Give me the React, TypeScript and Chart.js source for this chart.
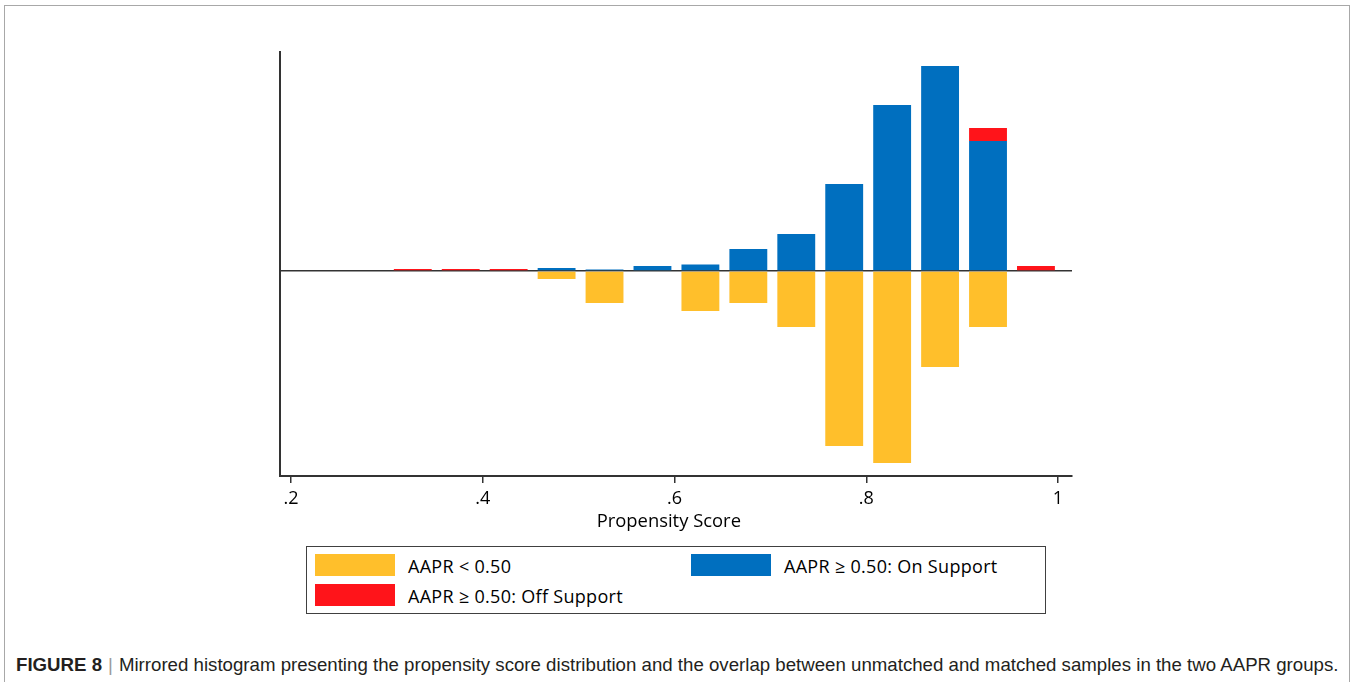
import React, { useEffect, useRef } from "react";
import { Chart, registerables } from "chart.js";

Chart.register(...registerables);

// ---- data ----
const binCenters = [0.327, 0.377, 0.427, 0.477, 0.527, 0.577, 0.627, 0.677, 0.727, 0.777, 0.827, 0.877, 0.927, 0.977];
const belowHalf: (number | null)[] = [null, null, null, -8, -32, null, -40, -32, -56, -175, -192, -96, -56, null];
const onSupport: (number | null)[] = [null, null, null, 3, 1.5, 5, 6.5, 22, 37, 87, 166, 205, 130, null];
const offSupport: (number | null)[] = [2, 2, 2, null, null, null, null, null, null, null, null, null, 13, 5];
const xTickValues = [0.2, 0.4, 0.6, 0.8, 1];
const xTickLabels = [".2", ".4", ".6", ".8", "1"];
const legendLabels = ["AAPR < 0.50", "AAPR \u2265 0.50: On Support", "AAPR \u2265 0.50: Off Support"];
const xTitle = "Propensity Score";
const captionBold = "FIGURE 8";
const captionText = "Mirrored histogram presenting the propensity score distribution and the overlap between unmatched and matched samples in the two AAPR groups.";

const YELLOW = "#FFBF2B";
const BLUE = "#006FBF";
const RED = "#FF141A";
const FONT = "'Open Sans'";

function toPoints(vals: (number | null)[]) {
  const pts: { x: number; y: number }[] = [];
  vals.forEach((v, i) => {
    if (v !== null) pts.push({ x: binCenters[i], y: v });
  });
  return pts;
}

export default function App() {
  const ref = useRef<HTMLCanvasElement | null>(null);

  useEffect(() => {
    if (!ref.current) return;
    const chart = new Chart(ref.current, {
      type: "bar",
      data: {
        datasets: [
          { label: legendLabels[0], data: toPoints(belowHalf) as any, backgroundColor: YELLOW },
          { label: legendLabels[1], data: toPoints(onSupport) as any, backgroundColor: BLUE },
          { label: legendLabels[2], data: toPoints(offSupport) as any, backgroundColor: RED },
        ],
      },
      options: {
        responsive: false,
        animation: false,
        layout: { padding: { left: 280, right: 280, top: 52, bottom: 7 } },
        plugins: {
          legend: { display: false },
          tooltip: { enabled: false },
          title: { display: false },
        },
        datasets: { bar: { barPercentage: 0.79, categoryPercentage: 1, borderWidth: 0 } } as any,
        scales: {
          x: {
            type: "linear",
            stacked: true,
            offset: false,
            min: 0.1885,
            max: 1.0146,
            afterBuildTicks: (s: any) => {
              s.ticks = xTickValues.map((v) => ({ value: v }));
            },
            afterFit: (s: any) => {
              s.height = 57;
            },
            ticks: {
              autoSkip: false,
              maxRotation: 0,
              padding: 5,
              color: "#000",
              font: { family: FONT, size: 18 },
              callback: (_v: any, i: number) => xTickLabels[i],
            },
            grid: {
              display: true,
              offset: false,
              drawOnChartArea: false,
              drawTicks: true,
              tickLength: 7,
              color: "#333",
              lineWidth: 1.5,
            },
            border: { display: true, color: "#333", width: 2 },
            title: {
              display: true,
              text: xTitle + "\u00a0\u00a0\u00a0",
              color: "#000",
              font: { family: FONT, size: 18.4 },
              padding: 0,
            },
          } as any,
          y: {
            type: "linear",
            stacked: true,
            min: -205,
            max: 219,
            afterBuildTicks: (s: any) => {
              s.ticks = [{ value: 0 }];
            },
            afterFit: (s: any) => {
              s.width = 0;
            },
            ticks: { display: false },
            grid: { display: true, drawTicks: false, color: "#333", lineWidth: 1.5 },
            border: { display: true, color: "#333", width: 2 },
          } as any,
        },
      },
    });
    return () => chart.destroy();
  }, []);

  const legendText: React.CSSProperties = {
    position: "absolute",
    fontFamily: FONT,
    fontSize: 18,
    lineHeight: "18px",
    letterSpacing: "0.3px",
    color: "#000",
    whiteSpace: "nowrap",
  };
  const swatch = (left: number, top: number, color: string): React.CSSProperties => ({
    position: "absolute",
    left,
    top,
    width: 80,
    height: 22,
    background: color,
  });

  return (
    <div style={{ position: "absolute", left: 0, top: 0, width: 1352, height: 682, overflow: "hidden", background: "#fff" }}>
      <div
        style={{
          position: "absolute",
          left: 4,
          top: 5,
          width: 1346,
          height: 720,
          boxSizing: "border-box",
          borderTop: "1px solid #a8a8a8",
          borderLeft: "1px solid #a8a8a8",
          borderRight: "1px solid #a8a8a8",
        }}
      />
      <canvas ref={ref} width={1352} height={540} style={{ position: "absolute", left: 0, top: 0 }} />
      <div
        style={{
          position: "absolute",
          left: 306,
          top: 546,
          width: 740,
          height: 68,
          boxSizing: "border-box",
          border: "1px solid #404040",
        }}
      />
      <div style={swatch(315, 554, YELLOW)} />
      <div style={swatch(691, 554, BLUE)} />
      <div style={swatch(315, 584, RED)} />
      <div style={{ ...legendText, left: 408, top: 556.5 }}>{legendLabels[0]}</div>
      <div style={{ ...legendText, left: 784, top: 556.5 }}>{legendLabels[1]}</div>
      <div style={{ ...legendText, left: 408, top: 586.5 }}>{legendLabels[2]}</div>
      <div
        style={{
          position: "absolute",
          left: 16,
          top: 656,
          fontFamily: "'Liberation Sans', Arial, sans-serif",
          fontSize: 18.67,
          lineHeight: "18.6px",
          color: "#231f20",
          whiteSpace: "nowrap",
        }}
      >
        <b>{captionBold}</b>
        <span style={{ color: "#999", margin: "0 6px" }}>|</span>
        <span>{captionText}</span>
      </div>
    </div>
  );
}
